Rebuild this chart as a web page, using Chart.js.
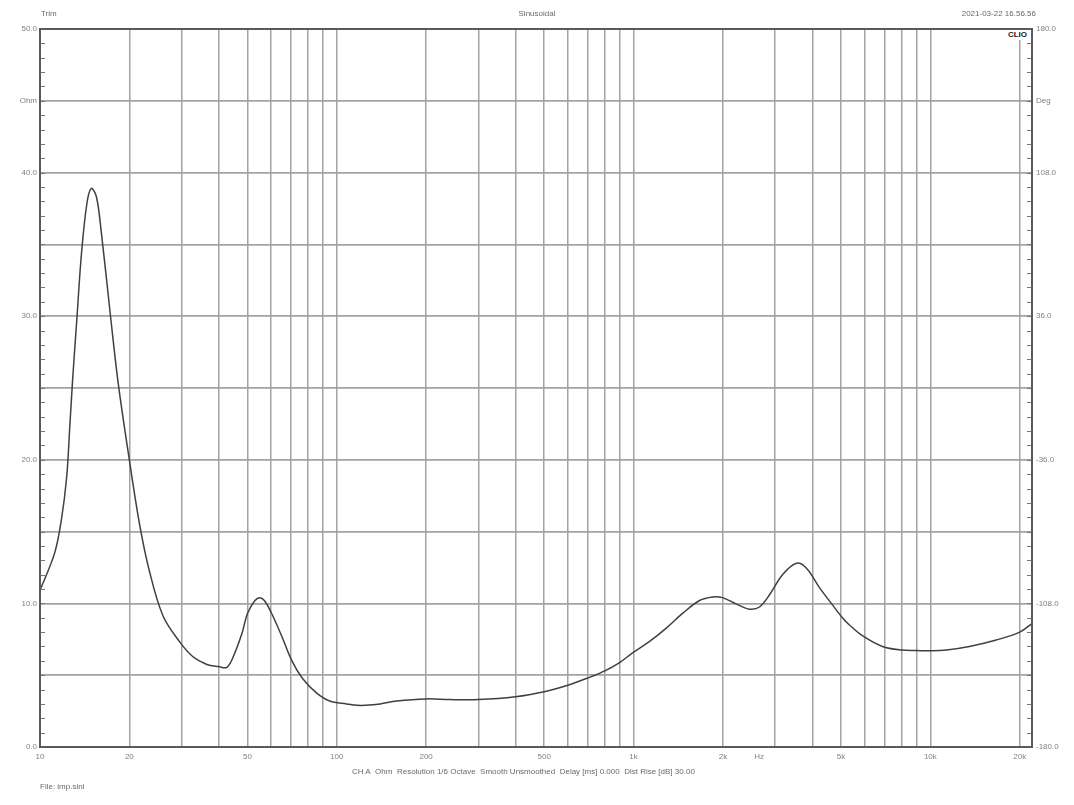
<!DOCTYPE html>
<html>
<head>
<meta charset="utf-8">
<script src="https://cdn.jsdelivr.net/npm/chart.js@4.4.0/dist/chart.umd.min.js"></script>
<style>
  html, body { margin: 0; padding: 0; background: #fff; }
  #wrap { position: relative; width: 1074px; height: 805px; }
  .t { position: absolute; font-family: "Liberation Sans", Arial, sans-serif; font-size: 8px; color: #6a6a6a; white-space: nowrap; line-height: 10px; }
  #clio { font-weight: bold; color: #222; background: #fff; padding: 0 2px; }
</style>
</head>
<body>
<div id="wrap">
  <canvas id="c" width="1074" height="805"></canvas>
  <div class="t" style="left:41px; top:9px;">Trim</div>
  <div class="t" style="left:0; width:1074px; top:9px; text-align:center;">Sinusoidal</div>
  <div class="t" style="right:38px; top:9px;">2021-03-22 16.56.56</div>
  <div class="t" id="clio" style="right:45px; top:30px;">CLIO</div>
  <div class="t" style="left:352px; top:767px;">CH A&nbsp; Ohm&nbsp; Resolution 1/6 Octave&nbsp; Smooth Unsmoothed&nbsp; Delay [ms] 0.000&nbsp; Dist Rise [dB] 30.00</div>
  <div class="t" style="left:40px; top:782px;">File: imp.sini</div>
</div>
<script>
// ---- data ----
const freqHz = [10, 11.2, 11.8, 12.3, 12.6, 12.9, 13.3, 13.8, 14.4, 14.9, 15.5, 16.1, 17.2, 18.3, 20, 21.7, 23.4, 26,
  29.6, 32.7, 36.5, 40, 42.6, 44.6, 47.9, 50, 53, 55, 57, 60, 65.3, 70.6, 76.8, 85.6, 94.7, 108, 117, 125, 140, 159,
  200, 240, 300, 400, 500, 600, 700, 800, 900, 992, 1132, 1292, 1462, 1668, 1845, 1994, 2223, 2458, 2656, 2871, 3175,
  3539, 3824, 4230, 4678, 5054, 5337, 5902, 6893, 8000, 9000, 10000, 11320, 13530, 16680, 20000, 22000];
const impedanceOhm = [10.9, 13.5, 15.8, 18.8, 22.3, 25.8, 29.7, 34.4, 37.9, 38.9, 38.3, 35.8, 30.4, 25.5, 20.0, 15.4, 12.2, 9.1,
  7.3, 6.3, 5.75, 5.6, 5.55, 6.2, 7.9, 9.3, 10.2, 10.4, 10.2, 9.4, 7.7, 6.0, 4.75, 3.75, 3.2, 3.0, 2.9, 2.9, 3.0, 3.2,
  3.35, 3.3, 3.3, 3.5, 3.85, 4.3, 4.8, 5.3, 5.9, 6.55, 7.35, 8.3, 9.3, 10.2, 10.45, 10.4, 9.95, 9.6, 9.75, 10.6, 12.0,
  12.8, 12.45, 11.1, 9.9, 9.0, 8.5, 7.75, 7.0, 6.75, 6.72, 6.7, 6.75, 7.0, 7.45, 8.0, 8.6];

const xTickValues = [10, 20, 30, 40, 50, 60, 70, 80, 90, 100, 200, 300, 400, 500, 600, 700, 800, 900,
  1000, 2000, 2650, 3000, 4000, 5000, 6000, 7000, 8000, 9000, 10000, 20000];
const xTickLabels = ['10', '20', '', '', '50', '', '', '', '', '100', '200', '', '', '500', '', '', '', '',
  '1k', '2k', 'Hz', '', '', '5k', '', '', '', '', '10k', '20k'];
const xLabelOnly = [2650]; // label without grid line

const yTickValues = [0, 5, 10, 15, 20, 25, 30, 35, 40, 45, 50];
const yTickLabels = ['0.0', '', '10.0', '', '20.0', '', '30.0', '', '40.0', 'Ohm', '50.0'];
const y2TickValues = [-180, -144, -108, -72, -36, 0, 36, 72, 108, 144, 180];
const y2TickLabels = ['-180.0', '', '-108.0', '', '-36.0', '', '36.0', '', '108.0', 'Deg', '180.0'];

const FONT = { family: '"Liberation Sans", Arial, sans-serif', size: 8 };
const LABEL_COLOR = '#808080';
const GRID_COLOR = '#a3a3a3';
const AXIS_COLOR = '#5a5a5a';

const framePlugin = {
  id: 'frame',
  afterDraw(chart) {
    const { ctx, chartArea: a, scales } = chart;
    ctx.save();
    ctx.strokeStyle = '#777';
    ctx.lineWidth = 1;
    const y = scales.y;
    for (let v = 1; v < 50; v++) {
      const py = Math.round(y.getPixelForValue(v)) + 0.5;
      ctx.beginPath();
      ctx.moveTo(a.left, py); ctx.lineTo(a.left + 5, py);
      ctx.moveTo(a.right, py); ctx.lineTo(a.right - 5, py);
      ctx.stroke();
    }
    ctx.strokeStyle = AXIS_COLOR;
    ctx.lineWidth = 2;
    ctx.strokeRect(a.left, a.top, a.right - a.left, a.bottom - a.top);
    ctx.restore();
  }
};

const points = freqHz.map((f, i) => ({ x: f, y: impedanceOhm[i] }));

new Chart(document.getElementById('c'), {
  type: 'line',
  data: {
    datasets: [{
      data: points,
      borderColor: '#404040',
      borderWidth: 1.5,
      pointRadius: 0,
      tension: 0.35,
      fill: false,
      yAxisID: 'y'
    }]
  },
  options: {
    responsive: false,
    devicePixelRatio: 1,
    animation: false,
    layout: { padding: { top: 29, left: 0, right: 0, bottom: 0 } },
    plugins: { legend: { display: false }, tooltip: { enabled: false } },
    scales: {
      x: {
        type: 'logarithmic',
        min: 10, max: 22000,
        afterBuildTicks: s => { s.ticks = xTickValues.map(v => ({ value: v })); },
        afterFit: s => { s.height = 58; },
        ticks: {
          autoSkip: false, maxRotation: 0, minRotation: 0, padding: 5,
          font: FONT, color: LABEL_COLOR,
          callback: (v, i) => xTickLabels[i]
        },
        grid: {
          drawTicks: false,
          lineWidth: 1.5,
          color: c => (c.tick && xLabelOnly.includes(c.tick.value)) ? 'rgba(0,0,0,0)' : GRID_COLOR
        },
        border: { color: AXIS_COLOR, width: 2 }
      },
      y: {
        type: 'linear', position: 'left',
        min: 0, max: 50,
        afterBuildTicks: s => { s.ticks = yTickValues.map(v => ({ value: v })); },
        afterFit: s => { s.width = 40; },
        ticks: {
          padding: 3, font: FONT, color: LABEL_COLOR,
          callback: (v, i) => yTickLabels[i]
        },
        grid: { drawTicks: false, lineWidth: 1.8, color: GRID_COLOR },
        border: { color: AXIS_COLOR, width: 2 }
      },
      y2: {
        type: 'linear', position: 'right',
        min: -180, max: 180,
        afterBuildTicks: s => { s.ticks = y2TickValues.map(v => ({ value: v })); },
        afterFit: s => { s.width = 42; },
        ticks: {
          padding: 4, font: FONT, color: LABEL_COLOR,
          callback: (v, i) => y2TickLabels[i]
        },
        grid: { display: false, drawTicks: false },
        border: { color: AXIS_COLOR, width: 2 }
      }
    }
  },
  plugins: [framePlugin]
});
</script>
</body>
</html>
